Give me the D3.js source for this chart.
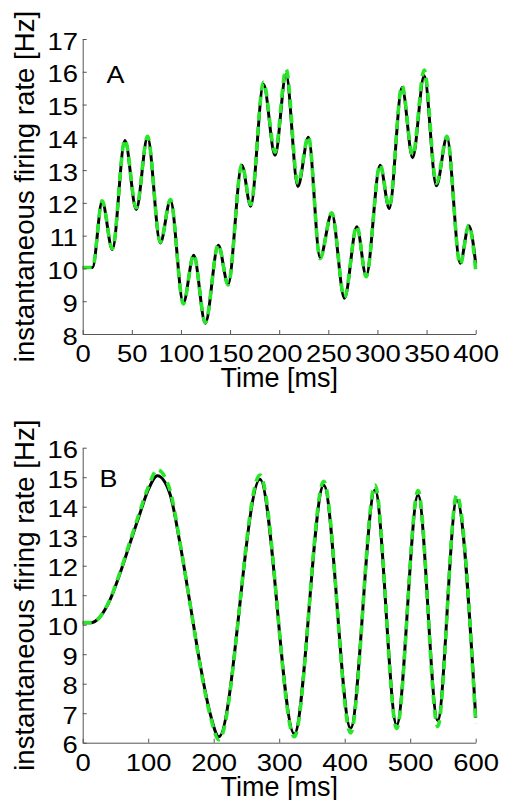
<!DOCTYPE html>
<html><head><meta charset="utf-8">
<script src="https://cdn.jsdelivr.net/npm/d3@7"></script>
<style>body{margin:0;background:#fff} svg{display:block} text{font-family:"Liberation Sans",Arial,Helvetica,sans-serif;fill:#000}</style>
</head><body><svg id="c" width="505" height="800"></svg>
<script>
// ---------- Panel A data ----------
const timeA = [0, 10, 19.8, 30.2, 43, 54.5, 66, 79, 89.3, 102.4, 113, 124.8, 138, 148, 162, 171, 184, 195.8, 207, 219, 229.7, 241.6, 253.5, 266.4, 279, 288.5, 302.7, 312, 325, 335.8, 347.6, 360, 370.7, 384.2, 393, 400];
const rateA_black = [10.03, 10.03, 12.04, 10.58, 13.9, 11.8, 14.0, 10.78, 12.08, 8.95, 10.4, 8.33, 10.71, 9.52, 13.15, 11.9, 15.62, 13.45, 15.92, 12.5, 14.0, 10.33, 11.68, 9.09, 11.27, 9.77, 13.15, 11.83, 15.52, 13.38, 15.88, 12.52, 14.0, 10.16, 11.3, 10.15];
const rateA_green = [10.03, 10.03, 12.06, 10.6, 13.93, 11.85, 14.03, 10.8, 12.1, 8.92, 10.42, 8.35, 10.73, 9.5, 13.17, 11.95, 15.68, 13.55, 16.08, 12.6, 14.03, 10.3, 11.7, 9.12, 11.3, 9.75, 13.17, 11.88, 15.58, 13.45, 16.05, 12.6, 14.03, 10.12, 11.32, 9.95];
const xTicksA = [0, 50, 100, 150, 200, 250, 300, 350, 400];
const yTicksA = [8, 9, 10, 11, 12, 13, 14, 15, 16, 17];

// ---------- Panel B data ----------
const timeB = [0, 13, 26.6, 41.7, 57, 72.2, 87.5, 100, 114, 133, 148.5, 163.8, 179, 194.4, 208, 270.7, 323, 368, 409, 446.3, 479.4, 512, 542, 571, 600];
const rateB_black = [10.07, 10.07, 10.27, 10.84, 11.74, 12.76, 13.78, 14.57, 15.05, 14.45, 12.76, 10.73, 8.69, 7.0, 6.2, 14.93, 6.3, 14.73, 6.49, 14.57, 6.6, 14.4, 6.75, 14.23, 6.85];
const rateB_green = [10.07, 10.07, 10.27, 10.86, 11.78, 12.82, 13.86, 14.66, 15.25, 14.58, 12.8, 10.72, 8.64, 6.94, 6.1, 15.07, 6.2, 14.86, 6.33, 14.73, 6.48, 14.55, 6.55, 14.4, 6.65];
const xTicksB = [0, 100, 200, 300, 400, 500, 600];
const yTicksB = [6, 7, 8, 9, 10, 11, 12, 13, 14, 15, 16];

const xLabel = "Time [ms]";
const yLabel = "instantaneous firing rate [Hz]";
const panelLetters = ["A", "B"];

const svg = d3.select("#c");
const TICK_FS = 24.5, LABEL_FS = 27.6, STRETCH = 1.12;

function panel(cfg) {
  const x = d3.scaleLinear().domain(cfg.xDomain).range([82.7, 475.7]);
  const y = d3.scaleLinear().domain(cfg.yDomain).range([cfg.yBottom, cfg.yTop]);
  const g = svg.append("g");

  const line = d3.line().x(d => x(d[0])).y(d => y(d[1])).curve(d3.curveMonotoneX);
  const black = cfg.time.map((t, i) => [t, cfg.black[i]]);
  const green = cfg.time.map((t, i) => [t, cfg.green[i]]);
  g.append("path").attr("d", line(black)).attr("fill", "none")
    .attr("stroke", "#000").attr("stroke-width", 3);
  g.append("path").attr("d", line(green)).attr("fill", "none")
    .attr("stroke", "#2ae62a").attr("stroke-width", 3.6).attr("stroke-dasharray", "9,6");

  const xa = g.append("g").attr("transform", `translate(0,${cfg.yBottom})`)
    .call(d3.axisBottom(x).tickValues(cfg.xTicks).tickSizeInner(-4).tickSizeOuter(0).tickFormat(d3.format("d")));
  const ya = g.append("g").attr("transform", `translate(82.7,0)`)
    .call(d3.axisLeft(y).tickValues(cfg.yTicks).tickSizeInner(-4).tickSizeOuter(0).tickFormat(d3.format("d")));
  [xa, ya].forEach(a => {
    a.select(".domain").attr("stroke", "#555");
    a.selectAll(".tick line").attr("stroke", "#555");
    a.selectAll("text").attr("font-size", TICK_FS).attr("fill", "#000")
      .style("font-family", '"Liberation Sans",Arial,sans-serif');
  });
  xa.selectAll("text").attr("y", 28.5).attr("dy", null).attr("transform", `scale(${STRETCH},1)`);
  ya.selectAll("text").attr("x", -4.3).attr("dy", "0.41em").attr("transform", `scale(${STRETCH},1)`);

  g.append("text").attr("x", 279.2).attr("y", cfg.yBottom + 53)
    .attr("text-anchor", "middle").attr("font-size", 27).text(xLabel);
  g.append("text").attr("transform", `translate(33.5,${(cfg.yBottom + cfg.yTop) / 2}) rotate(-90)`)
    .attr("text-anchor", "middle").attr("font-size", LABEL_FS).text(yLabel);
  g.append("text").attr("transform", `translate(${cfg.letterX},${cfg.letterY}) scale(1.12,1)`)
    .attr("font-size", 24).text(cfg.letter);
}

panel({xDomain: [0, 400], yDomain: [8, 17], yBottom: 334, yTop: 39,
  time: timeA, black: rateA_black, green: rateA_green, xTicks: xTicksA, yTicks: yTicksA,
  letter: panelLetters[0], letterX: 106.5, letterY: 82.5});
panel({xDomain: [0, 600], yDomain: [6, 16], yBottom: 742.7, yTop: 447.7,
  time: timeB, black: rateB_black, green: rateB_green, xTicks: xTicksB, yTicks: yTicksB,
  letter: panelLetters[1], letterX: 99.5, letterY: 486.5});
</script></body></html>
